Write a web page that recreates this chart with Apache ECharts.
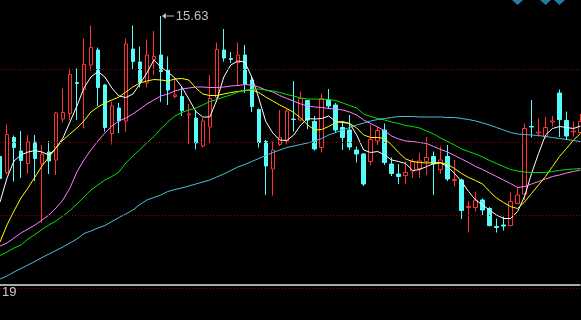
<!DOCTYPE html>
<html><head><meta charset="utf-8">
<script src="https://cdn.jsdelivr.net/npm/echarts@6/dist/echarts.min.js"></script>
<style>html,body{margin:0;padding:0;background:#000;}#c{width:581px;height:320px;}</style>
</head><body><div id="c"></div>
<script>
const openP = [12.82,12.50,13.20,12.93,12.68,13.11,12.68,12.91,12.75,13.57,
13.68,14.30,14.16,14.65,14.95,14.25,13.28,13.79,13.53,14.97,
14.71,14.29,14.76,14.85,14.55,14.02,14.02,13.65,13.59,13.03,
13.41,14.00,14.95,14.78,14.70,14.85,14.35,13.76,13.12,12.57,
13.06,13.13,13.57,13.55,13.94,13.52,13.00,13.95,13.85,13.40,
13.35,12.95,12.87,12.72,13.13,13.35,12.67,12.47,12.44,12.53,
12.58,12.72,12.82,12.56,12.82,12.34,12.35,11.80,11.80,11.95,
11.78,11.42,11.45,11.44,11.88,12.07,13.42,13.29,13.22,13.51,
14.09,13.54,13.31,13.30];
const closeP = [12.38,13.26,13.00,12.74,13.11,12.78,12.87,12.73,13.69,13.70,
14.46,14.28,14.66,15.00,14.20,13.40,13.83,13.53,15.07,14.72,
14.30,14.85,14.82,14.52,14.15,14.05,13.74,13.67,13.09,13.53,
13.98,14.96,14.79,14.76,14.85,14.27,13.82,13.10,12.63,12.95,
13.20,13.73,13.56,13.98,13.55,12.97,13.98,13.83,13.35,13.20,
13.01,12.87,12.27,13.16,13.34,12.70,12.48,12.42,12.50,12.72,
12.73,12.80,12.67,12.75,12.37,12.36,11.74,11.82,11.95,11.75,
11.44,11.40,11.43,11.92,12.05,13.38,13.41,13.31,13.40,13.53,
13.56,13.23,13.33,13.52];
const lowP = [12.25,12.45,12.32,12.39,12.48,12.33,11.49,12.47,12.45,13.50,
13.55,13.55,13.38,14.53,13.83,13.32,13.06,13.29,13.31,14.55,
14.20,14.20,14.45,13.91,13.85,13.98,13.63,13.07,12.96,13.00,
13.09,13.92,14.72,14.69,14.23,14.09,13.71,13.00,12.05,12.04,
13.03,13.06,13.32,13.52,13.37,12.94,12.90,13.77,13.29,12.95,
12.95,12.70,12.23,12.64,13.05,12.65,12.43,12.27,12.27,12.39,
12.39,12.45,12.05,12.47,12.33,12.22,11.57,11.30,11.72,11.65,
11.42,11.30,11.34,11.42,11.87,11.95,13.20,13.22,13.18,13.42,
13.21,13.15,13.22,13.29];
const highP = [12.95,13.46,13.24,13.33,13.25,13.25,13.05,13.13,13.71,14.18,
14.58,14.58,15.18,15.44,15.00,14.27,13.92,13.89,15.18,15.44,
15.02,15.16,15.33,15.63,14.82,14.39,14.23,13.87,13.75,13.59,
14.45,15.10,15.37,14.91,15.10,15.05,14.41,13.78,13.15,13.12,
13.75,13.78,14.33,14.12,13.95,13.63,14.08,14.17,13.89,13.52,
13.65,13.02,12.89,13.46,13.41,13.48,12.80,12.67,12.72,12.78,
12.89,13.21,12.92,13.02,13.05,12.75,12.38,11.93,12.12,11.98,
11.81,11.58,11.62,12.10,12.22,13.48,13.95,13.58,13.61,13.63,
14.16,13.72,13.52,13.67];
const ma5 = [11.91,12.39,12.73,12.85,12.91,12.94,12.91,12.85,12.99,13.19,
13.51,13.83,14.19,14.41,14.52,14.41,14.19,14.03,14.00,14.07,
14.27,14.49,14.75,14.61,14.51,14.39,14.21,13.97,13.72,13.61,
13.61,13.95,14.41,14.65,14.73,14.71,14.41,13.99,13.52,13.29,
13.15,13.14,13.25,13.45,13.58,13.57,13.58,13.63,13.52,13.50,
13.48,13.25,12.95,12.90,12.92,12.85,12.75,12.72,12.68,12.54,
12.56,12.62,12.68,12.69,12.62,12.48,12.32,12.12,11.95,11.85,
11.75,11.65,11.58,11.58,11.72,12.02,12.48,12.88,13.25,13.38,
13.42,13.40,13.38,13.43];
const ma10 = [11.11,11.45,11.73,11.99,12.19,12.41,12.63,12.81,12.99,13.15,
13.27,13.39,13.53,13.71,13.81,13.89,13.95,14.01,14.11,14.21,
14.29,14.33,14.36,14.35,14.33,14.37,14.38,14.35,14.19,14.07,
14.04,14.04,14.07,14.10,14.12,14.14,14.15,14.10,14.01,13.93,
13.85,13.78,13.70,13.59,13.45,13.35,13.36,13.42,13.50,13.52,
13.48,13.39,13.25,13.20,13.20,13.18,13.05,12.90,12.77,12.72,
12.70,12.69,12.70,12.70,12.66,12.58,12.48,12.40,12.34,12.27,
12.12,11.99,11.90,11.82,11.78,11.91,12.08,12.25,12.42,12.62,
12.82,12.98,13.15,13.28];
const ma20 = [11.03,11.09,11.19,11.29,11.37,11.45,11.55,11.65,11.79,11.95,
12.19,12.51,12.75,12.95,13.13,13.29,13.43,13.53,13.59,13.67,
13.77,13.87,13.95,14.03,14.07,14.13,14.17,14.19,14.21,14.21,
14.20,14.20,14.21,14.23,14.24,14.26,14.25,14.21,14.15,14.11,
14.04,13.98,13.93,13.87,13.83,13.81,13.80,13.78,13.77,13.75,
13.71,13.65,13.55,13.48,13.41,13.33,13.23,13.17,13.13,13.12,
13.10,13.08,13.02,12.96,12.91,12.84,12.77,12.70,12.62,12.56,
12.49,12.42,12.35,12.28,12.20,12.22,12.27,12.32,12.37,12.42,
12.45,12.49,12.52,12.55];
const ma30 = [10.84,10.91,10.99,11.05,11.17,11.26,11.36,11.45,11.53,11.63,
11.74,11.87,12.01,12.15,12.25,12.35,12.42,12.51,12.69,12.83,
12.96,13.09,13.22,13.37,13.51,13.63,13.70,13.75,13.79,13.85,
13.92,13.96,14.01,14.05,14.11,14.14,14.16,14.17,14.15,14.13,
14.10,14.06,14.03,13.99,13.97,13.97,13.96,13.96,13.94,13.89,
13.84,13.79,13.67,13.62,13.58,13.55,13.51,13.48,13.44,13.42,
13.39,13.33,13.27,13.19,13.12,13.05,12.97,12.92,12.87,12.81,
12.74,12.68,12.62,12.56,12.53,12.51,12.50,12.50,12.50,12.52,
12.54,12.56,12.57,12.58];
const ma60 = [10.37,10.43,10.51,10.58,10.65,10.72,10.80,10.87,10.94,11.01,
11.09,11.17,11.28,11.33,11.39,11.44,11.52,11.60,11.67,11.75,
11.86,11.95,12.00,12.05,12.12,12.16,12.19,12.23,12.27,12.31,
12.35,12.41,12.47,12.54,12.61,12.66,12.72,12.78,12.84,12.90,
12.95,13.00,13.03,13.06,13.09,13.13,13.18,13.25,13.30,13.35,
13.40,13.45,13.49,13.53,13.56,13.58,13.60,13.62,13.62,13.62,
13.61,13.61,13.61,13.61,13.60,13.60,13.58,13.56,13.53,13.49,
13.45,13.40,13.35,13.30,13.27,13.26,13.25,13.24,13.22,13.20,
13.18,13.16,13.14,13.12];
const gridValues = [14.56, 13.10, 11.64, 10.18];
const separatorValue = 10.25;
const signalIdx = [74, 78, 80];
const highLabel = '15.63';
const highIdx = 23;
const footLabel = '19';
const categories = openP.map((_, i) => String(i + 1));

const candles = openP.map((o, i) => [o, closeP[i], lowP[i], highP[i]]);
const FONT = 'Liberation Sans';

function maSeries(name, data, color) {
  return { name, type: 'line', data, symbol: 'none', smooth: false, z: 4,
    lineStyle: { color, width: 1 }, itemStyle: { color }, silent: true };
}

const chart = echarts.init(document.getElementById('c'), null, { renderer: 'canvas' });
chart.setOption({
  animation: false,
  backgroundColor: '#000000',
  title: { text: footLabel, left: 2, top: 286, padding: 0,
    textStyle: { color: '#c8c8c8', fontSize: 13, fontWeight: 'normal', fontFamily: FONT } },
  grid: { left: -0.5, right: 0.5, top: 0, bottom: 0 },
  xAxis: { type: 'category', data: categories, boundaryGap: false, show: false },
  yAxis: { type: 'value', min: 9.55, max: 15.95, show: false, splitLine: { show: false } },
  series: [
    { name: 'grid', type: 'line', data: [], z: 1, silent: true,
      markLine: { silent: true, symbol: ['none', 'none'], label: { show: false }, animation: false,
        data: gridValues.map(v => ({ yAxis: v, lineStyle: { color: '#900000', type: [1, 2], width: 1 } }))
          .concat([{ yAxis: separatorValue, lineStyle: { color: '#a8a8a8', type: 'solid', width: 2 } }]) } },
    { name: 'K', type: 'candlestick', data: candles, barWidth: 4, z: 2,
      itemStyle: { color: '#000000', color0: '#54fcfc', borderColor: '#ff3232', borderColor0: '#54fcfc', borderWidth: 1 },
      markPoint: { silent: true, animation: false,
        symbol: 'path://M0,3 L4,0 L4,2.5 L12,2.5 L12,3.5 L4,3.5 L4,6 Z',
        symbolSize: [12, 6], symbolOffset: [7, 0],
        itemStyle: { color: '#c0c0c0' },
        label: { show: true, position: 'right', distance: 2, formatter: highLabel,
          color: '#c0c0c0', fontSize: 13, fontFamily: FONT },
        data: [{ coord: [highIdx, highP[highIdx]] }] } },
    maSeries('MA5', ma5, '#ffffff'),
    maSeries('MA10', ma10, '#ffff00'),
    maSeries('MA20', ma20, '#ff80ff'),
    maSeries('MA30', ma30, '#00e600'),
    maSeries('MA60', ma60, '#48c0e0'),
    { name: 'signal', type: 'scatter', symbol: 'diamond', symbolSize: [11, 10], z: 5, silent: true,
      itemStyle: { color: '#3399cc' },
      data: signalIdx.map(i => [i, 15.95]) }
  ]
});
</script></body></html>
